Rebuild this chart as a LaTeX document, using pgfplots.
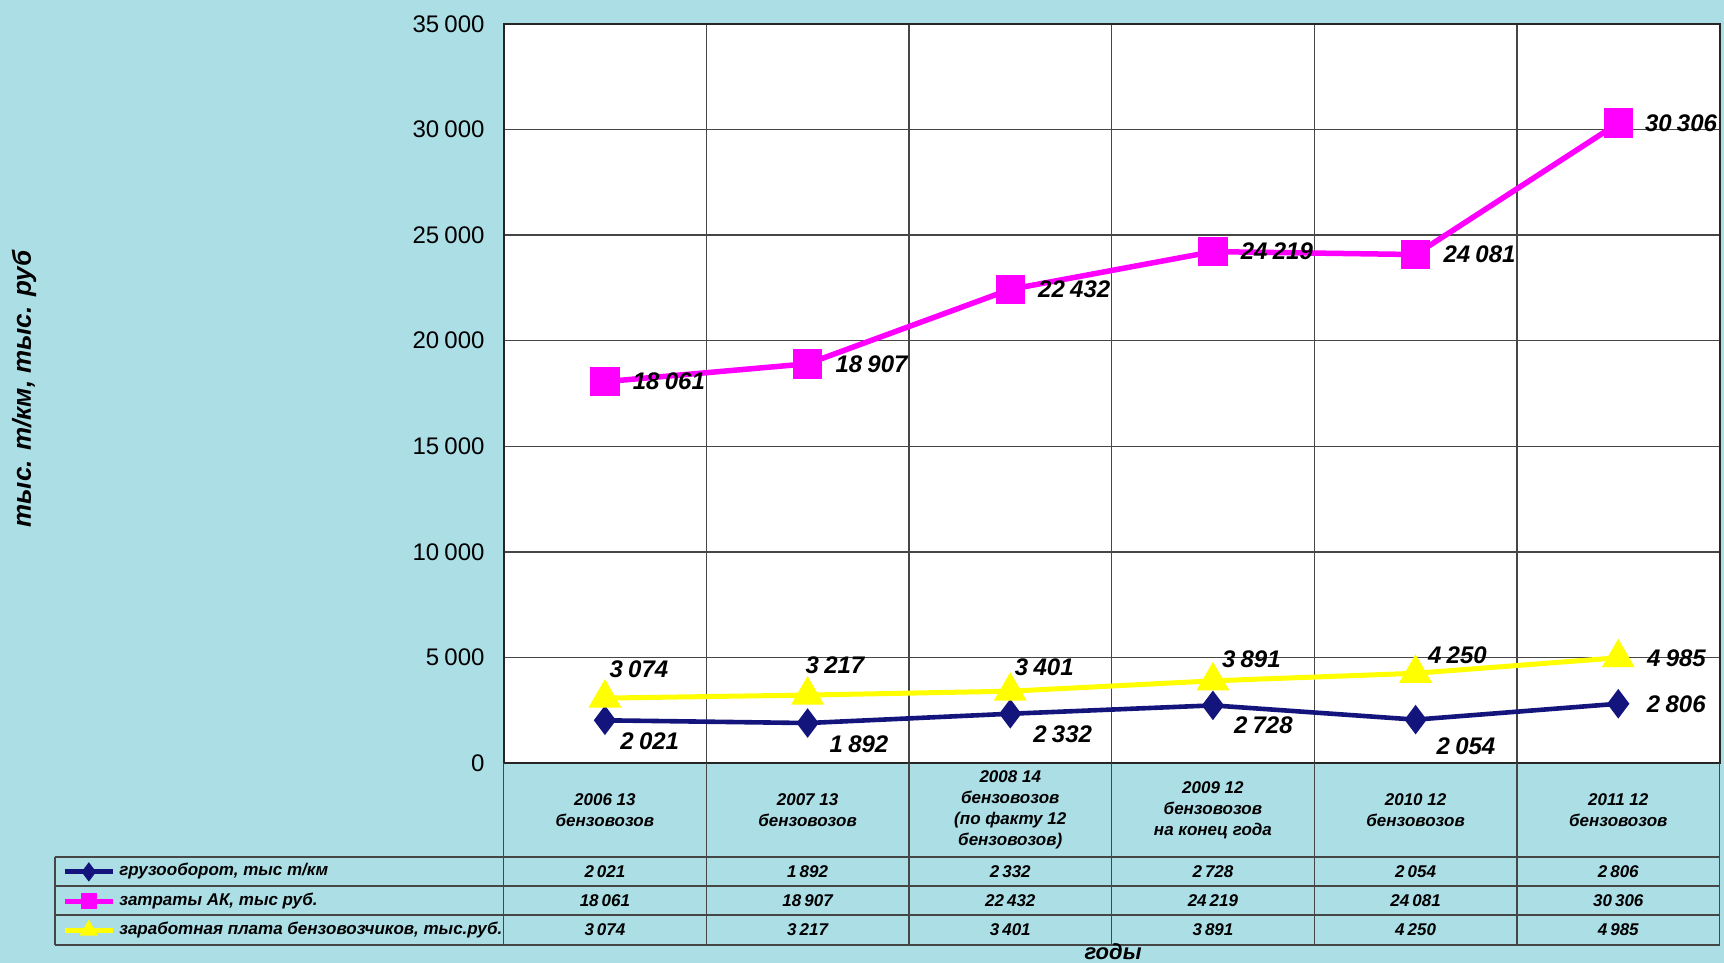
\documentclass[border=0pt]{standalone}
\usepackage{pgfplots}
\pgfplotsset{compat=1.18}
\usepackage{pgfplotstable}
\usepackage{fontspec}
\setmainfont{Liberation Sans}
\definecolor{bgc}{RGB}{172,222,230}
\definecolor{navy}{RGB}{20,20,125}
\definecolor{mag}{RGB}{255,0,255}
\definecolor{yel}{RGB}{255,255,0}
\definecolor{gridc}{RGB}{70,70,70}

\pgfplotstableread{
x y lx ly
0 2021 6.6 -10.4
1 1892 9.9 -10.4
2 2332 10.4 -10.4
3 2728 9.4 -9.9
4 2054 9.4 -13.2
5 2806 13.2 0
}\gruz
\pgfplotstableread{
x y lx ly
0 18061 12.6 0
1 18907 12.6 0
2 22432 12.6 0
3 24219 12.6 0
4 24081 12.6 0
5 30306 12 0
}\zatr
\pgfplotstableread{
x y lx ly
0 3074 1.1 14.3
1 3217 -2.2 14.8
2 3401 1.1 12.1
3 3891 3.3 11
4 4250 5 8.8
5 4985 13.2 0
}\zarp

\newcommand{\lab}{\fontsize{12}{14}\selectfont\bfseries\itshape}
\newcommand{\tabf}{\fontsize{8.5}{10.5}\selectfont\bfseries\itshape}
\newcommand{\ts}{\hspace{0.18em}}

\begin{document}
\begin{tikzpicture}
\fill[bgc] (0,0) rectangle (862pt,481.5pt);
\begin{axis}[
  at={(251.8pt,100pt)}, anchor=south west,
  scale only axis, width=608pt, height=369.5pt,
  xmin=-0.5, xmax=5.5, ymin=0, ymax=35000,
  clip=false,
  axis background/.style={fill=white},
  xtick={0,...,5},
  xticklabels={{2006 13\\бензовозов},{2007 13\\бензовозов},{2008 14\\бензовозов\\(по факту 12\\бензовозов)},{2009 12\\бензовозов\\на конец года},{2010 12\\бензовозов},{2011 12\\бензовозов}},
  xticklabel style={align=center, anchor=center, yshift=-23.5pt, font=\tabf},
  major tick length=0pt, minor tick length=0pt,
  minor xtick={-0.5,0.5,...,5.5},
  xminorgrids, ymajorgrids,
  ytick={0,5000,...,35000},
  scaled y ticks=false,
  yticklabel style={font=\fontsize{12}{14}\selectfont, xshift=-6pt},
  /pgf/number format/.cd, fixed, precision=0, 1000 sep={\hspace{0.22em}}, assume math mode=true,
  /pgfplots/.cd,
  grid style={gridc, line width=0.75pt},
  minor grid style={gridc, line width=0.75pt},
  axis line style={black!85, line width=1pt},
  legend style={at={(-0.3632,-0.136)}, anchor=north west, draw=none, fill=none, inner sep=0pt, row sep=6.6pt, column sep=2pt, font=\tabf, nodes={inner sep=0pt, text height=6pt, text depth=2pt}},
  legend cell align=left,
  legend image code/.code={\draw[mark repeat=2, mark phase=2, #1, line width=2.5pt, mark size=2.8pt] plot coordinates {(0pt,0pt) (12pt,0pt) (24pt,0pt)};},
  nodes near coords,
  visualization depends on={\thisrow{lx} \as \lx},
  visualization depends on={\thisrow{ly} \as \ly},
  every node near coord/.append style={font=\lab, text=black, anchor=west, inner sep=0pt, xshift=\lx pt, yshift=\ly pt},
]
\addplot[navy, line width=2.3pt, mark=diamond*, mark size=5.5pt, mark options={solid}] table[x=x,y=y] {\gruz};
\addlegendentry{грузооборот, тыс т/км}
\addplot[mag, line width=2.75pt, mark=square*, mark size=6pt, mark options={solid}] table[x=x,y=y] {\zatr};
\addlegendentry{затраты АК, тыс руб.}
\addplot[yel, line width=2.5pt, mark=triangle*, mark size=7pt, mark options={solid}] table[x=x,y=y] {\zarp};
\addlegendentry{заработная плата бензовозчиков, тыс.руб.}
\end{axis}
% data table
\begin{scope}[gridc, line width=0.6pt]
\foreach \yy in {53,38.5,24,9} \draw (27.5pt,\yy pt) -- (859.8pt,\yy pt);
\draw (27.5pt,9pt) -- (27.5pt,53pt);
\foreach \k in {0,...,6} \draw ({251.8pt+\k*101.333pt},9pt) -- ({251.8pt+\k*101.333pt},100pt);
\end{scope}
\foreach \i/\a/\b/\c in {0/2\ts021/18\ts061/3\ts074, 1/1\ts892/18\ts907/3\ts217, 2/2\ts332/22\ts432/3\ts401, 3/2\ts728/24\ts219/3\ts891, 4/2\ts054/24\ts081/4\ts250, 5/2\ts806/30\ts306/4\ts985}{
  \node[font=\tabf] at ({251.8pt+(\i+0.5)*101.333pt},45.75pt) {\a};
  \node[font=\tabf] at ({251.8pt+(\i+0.5)*101.333pt},31.25pt) {\b};
  \node[font=\tabf] at ({251.8pt+(\i+0.5)*101.333pt},16.5pt) {\c};
}
\node[rotate=90, font=\fontsize{13}{15}\selectfont\bfseries\itshape] at (12pt,287pt) {тыс. т/км, тыс. руб};
\node[anchor=north, inner sep=0pt, font=\fontsize{11}{13}\selectfont\bfseries\itshape] at (556.5pt,10pt) {годы};
\pgfresetboundingbox
\useasboundingbox (0,0) rectangle (862pt,481.5pt);
\end{tikzpicture}
\end{document}
